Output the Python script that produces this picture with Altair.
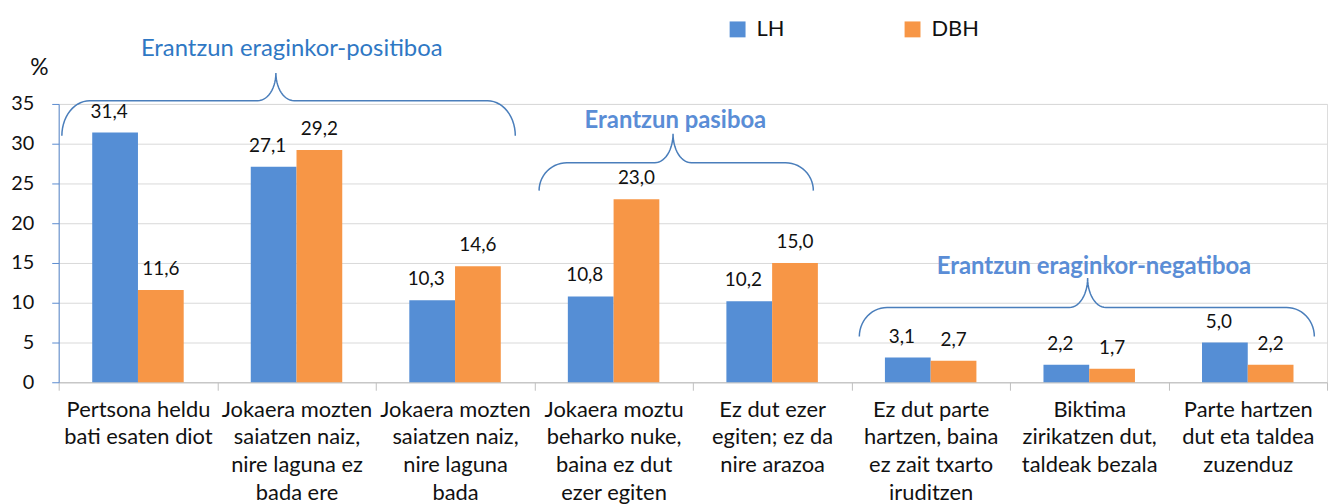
import math
import altair as alt
import pandas as pd

# ---------------- data ----------------
categories = [
    "Pertsona heldu|bati esaten diot",
    "Jokaera mozten|saiatzen naiz,|nire laguna ez|bada ere",
    "Jokaera mozten|saiatzen naiz,|nire laguna|bada",
    "Jokaera moztu|beharko nuke,|baina ez dut|ezer egiten",
    "Ez dut ezer|egiten; ez da|nire arazoa",
    "Ez dut parte|hartzen, baina|ez zait txarto|iruditzen",
    "Biktima|zirikatzen dut,|taldeak bezala",
    "Parte hartzen|dut eta taldea|zuzenduz",
]
series = ["LH", "DBH"]
lh_values = [31.4, 27.1, 10.3, 10.8, 10.2, 3.1, 2.2, 5.0]
dbh_values = [11.6, 29.2, 14.6, 23.0, 15.0, 2.7, 1.7, 2.2]
y_ticks = [0, 5, 10, 15, 20, 25, 30, 35]

# group annotations (x in category units 0..8, y in %)
group_labels = ["Erantzun eraginkor-positiboa", "Erantzun pasiboa", "Erantzun eraginkor-negatiboa"]
group_label_x = [1.47, 3.89, 6.53]
group_label_y = [41.9, 32.9, 14.5]
brace_x0 = [0.02, 3.03, 5.05]
brace_x1 = [2.88, 4.76, 7.92]
brace_tip_x = [1.37, 3.875, 6.49]
brace_end_y = [31.0, 24.1, 5.75]
brace_mid_y = [35.4, 27.6, 9.4]
brace_tip_y = [38.9, 31.25, 13.1]

BLUE = "#558ED5"
ORANGE = "#F79646"
FONT = "Lato"
TXT = "#111111"

rows = []
for c, a, b in zip(categories, lh_values, dbh_values):
    rows.append({"cat": c, "series": "LH", "value": a, "label": f"{a:.1f}".replace(".", ",")})
    rows.append({"cat": c, "series": "DBH", "value": b, "label": f"{b:.1f}".replace(".", ",")})
bars_df = pd.DataFrame(rows)

# brace outline points
end_rx, tip_rx = 0.175, 0.115
brace_rows = []
for i in range(len(brace_x0)):
    x0, x1, xc = brace_x0[i], brace_x1[i], brace_tip_x[i]
    ye, ym, yt = brace_end_y[i], brace_mid_y[i], brace_tip_y[i]
    pts = []
    n = 14
    for k in range(n + 1):
        t = math.pi - (math.pi / 2) * k / n
        pts.append((x0 + end_rx + end_rx * math.cos(t), ye + (ym - ye) * math.sin(t)))
    for k in range(n + 1):
        t = -math.pi / 2 + (math.pi / 2) * k / n
        pts.append((xc - tip_rx + tip_rx * math.cos(t), yt + (yt - ym) * math.sin(t)))
    for k in range(n + 1):
        t = math.pi - (math.pi / 2) * k / n
        pts.append((xc + tip_rx + tip_rx * math.cos(t), yt - (yt - ym) * math.sin(t)))
    for k in range(n + 1):
        t = math.pi / 2 - (math.pi / 2) * k / n
        pts.append((x1 - end_rx + end_rx * math.cos(t), ye + (ym - ye) * math.sin(t)))
    for j, (px, py) in enumerate(pts):
        brace_rows.append({"brace": i, "order": j, "bx": px, "by": py})
brace_df = pd.DataFrame(brace_rows)

ann_df = pd.DataFrame({"text": group_labels, "ax": group_label_x, "ay": group_label_y,
                       "bold": [False, True, True]})

# ---------------- scales / axes ----------------
x_scale = alt.Scale(paddingInner=0, paddingOuter=0)
off_scale = alt.Scale(domain=series, paddingOuter=0.733, paddingInner=0)
y_scale = alt.Scale(domain=[0, 35], nice=False)

x_axis = alt.Axis(
    title=None, labelExpr="split(datum.label, '|')", labelAngle=0,
    labelFontSize=22, labelLineHeight=28, labelPadding=9, labelBaseline="top",
    labelColor=TXT, labelFont=FONT, labelOverlap=False, labelLimit=300,
    tickSize=8, tickBand="extent", domainColor="#BFBFBF", tickColor="#BFBFBF",
    grid=False,
)
y_axis = alt.Axis(
    values=y_ticks, title="%", titleAngle=0, titleX=-20, titleY=-37,
    titleFontSize=23, titleFontWeight="normal", titleFont=FONT, titleColor=TXT,
    titleAlign="center", titleBaseline="middle",
    labelFontSize=20, labelFont=FONT, labelColor=TXT, labelPadding=18,
    labelOverlap=False, labelFlush=False,
    tickSize=7, domainColor="#5B8BD0", tickColor="#5B8BD0",
    gridColor="#D9D9D9", grid=True,
)


def yv(field):
    return alt.Y(field, scale=y_scale, axis=y_axis, title="%")


def xb():
    return alt.X("cat:N", sort=categories, scale=x_scale, axis=x_axis)


def xo():
    return alt.XOffset("series:N", sort=series, scale=off_scale)


bars = alt.Chart(bars_df).mark_bar().encode(
    x=xb(),
    xOffset=xo(),
    y=yv("value:Q"),
    color=alt.Color(
        "series:N", sort=series,
        scale=alt.Scale(domain=series, range=[BLUE, ORANGE]),
        legend=alt.Legend(
            title=None, orient="none", legendX=672, legendY=-86, direction="horizontal",
            symbolType="square", symbolSize=256, symbolStrokeWidth=0,
            labelFontSize=22, labelFont=FONT, labelColor=TXT,
            labelOffset=8, columnPadding=117,
        ),
    ),
)

label_common = dict(fontSize=19, font=FONT, color=TXT, baseline="middle", dy=-21)
lab_lh = alt.Chart(bars_df).transform_filter(alt.datum.series == "LH").mark_text(dx=-6, **label_common).encode(
    x=xb(), xOffset=xo(), y=yv("value:Q"), text="label:N",
)
lab_dbh = alt.Chart(bars_df).transform_filter(alt.datum.series == "DBH").mark_text(**label_common).encode(
    x=xb(), xOffset=xo(), y=yv("value:Q"), text="label:N",
)

bar_layer = alt.layer(bars, lab_lh, lab_dbh)

qx = alt.Scale(domain=[0, 8], nice=False, zero=False)
braces = alt.Chart(brace_df).mark_line(color="#4A7EBB", strokeWidth=1.5, interpolate="linear").encode(
    x=alt.X("bx:Q", scale=qx, axis=None),
    y=yv("by:Q"),
    detail="brace:N",
    order="order:Q",
)
ann_normal = alt.Chart(ann_df).transform_filter("!datum.bold").mark_text(
    fontSize=24, font=FONT, color="#2F78C4", baseline="middle", align="center"
).encode(
    x=alt.X("ax:Q", scale=qx, axis=None),
    y=yv("ay:Q"),
    text="text:N",
)
ann_bold = alt.Chart(ann_df).transform_filter("datum.bold").mark_text(
    fontSize=24, font=FONT, color="#5A8DD6", baseline="middle", align="center", fontWeight="bold"
).encode(
    x=alt.X("ax:Q", scale=qx, axis=None),
    y=yv("ay:Q"),
    text="text:N",
)
anno_layer = alt.layer(braces, ann_normal, ann_bold)

chart = alt.layer(bar_layer, anno_layer).resolve_scale(x="independent").properties(
    width=1276, height=280,
    padding={"left": 51, "top": 95, "right": 4, "bottom": 130},
    autosize=alt.AutoSizeParams(type="none"),
).configure_view(stroke=None).configure(font=FONT)

chart.save("out.html", embed_options={"renderer": "svg", "actions": False})
